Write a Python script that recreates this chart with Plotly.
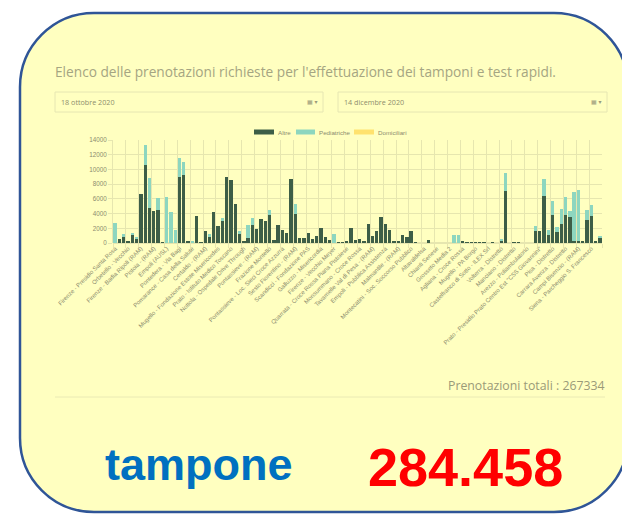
import plotly.graph_objects as go

W, H = 622, 520

# ---------------- data ----------------
tick_labels = [
    "Firenze - Presidio Santa Rosa", "Orbetello - Vecchio", "Firenze - Badia Ripoli (RAM)",
    "Pistoia - (RAM)", "Empoli (AUSL)", "Pontedera - Via Bagi",
    "Pomarance - Casa della Salute", "Certaldo - (RAM)", "Mugello - Fondazione Estote Misericordes",
    "Prato - Istituto Medico Toscano", "Nottola - Ospedale Drive Through", "Pontassieve - (RAM)",
    "Frazione Montello", "Pontassieve - Loc. Sieci Croce Azzurra", "Sesto Fiorentino - (RAM)",
    "Scandicci - Fondazione PAS", "Galluzzo - Misericordia", "Firenze - Vecchio Meyer",
    "Quarrata - Croce Rossa Piana Pistoiese", "Monsummano - Croce Rossa", "Tavarnelle Val di Pesa - (RAM)",
    "Empoli - Pubblica Assistenza", "Malmantile - (RAM)", "Montecatini - Soc. Soccorso Pubblico",
    "Altavaldelsa", "Chianti Senese", "Grosseto Media 2",
    "Agliana - Croce Rossa", "Mugello - PA Borgo", "Castelfranco di Sotto - ILEX Srl",
    "Volterra - Distretto", "Manciano - Distretto", "Arezzo - Poliambulatorio",
    "Prato - Presidio Prato Centro Est \"CSS Giovannini\"", "Pisa - Distretto", "Carrara Avenza - Distretto",
    "Campi Bisenzio - (RAM)", "Siena - Parcheggio S. Francesco",
]

altre = [
    0, 550, 860, 140, 1050, 640, 6600, 10600, 4700, 4360,
    4500, 30, 0, 0, 0, 8950, 9180, 230, 0, 3640,
    40, 1680, 820, 4180, 2360, 3050, 8950, 8550, 5360, 1230,
    320, 680, 2400, 1900, 3230, 3050, 3860, 360, 2400, 1800,
    1360, 8730, 3900, 640, 640, 1360, 500, 1000, 2090, 860,
    360, 0, 60, 40, 320, 2100, 360, 500, 140, 2600,
    900, 1680, 3600, 2600, 1770, 270, 320, 1140, 820, 1600,
    100, 0, 0, 400, 0, 0, 0, 0, 0, 0,
    0, 230, 80, 40, 50, 100, 80, 0, 30, 0,
    350, 7050, 0, 100, 50, 0, 0, 0, 1650, 1600,
    6330, 1150, 3830, 1550, 2620, 3760, 3500, 320, 320, 320,
    3120, 3720, 320, 690,
]
pediatriche = [
    2700, 0, 410, 0, 310, 180, 0, 2700, 4160, 0,
    1550, 0, 6200, 4270, 1800, 2650, 1820, 0, 180, 0,
    0, 0, 410, 0, 0, 400, 0, 0, 0, 450,
    0, 1720, 1050, 0, 0, 0, 640, 0, 0, 0,
    0, 0, 1400, 0, 0, 0, 0, 0, 0, 0,
    0, 1270, 0, 0, 0, 0, 0, 0, 0, 0,
    0, 0, 0, 0, 0, 0, 0, 0, 0, 0,
    0, 0, 0, 0, 0, 0, 0, 0, 0, 1140,
    1140, 0, 0, 0, 0, 0, 0, 0, 0, 0,
    200, 2400, 0, 0, 0, 0, 0, 0, 600, 0,
    2400, 670, 1900, 570, 2050, 2430, 880, 6680, 6950, 0,
    1380, 1470, 0, 190,
]
domiciliari = [0] * len(altre)
x_idx = list(range(len(altre)))
tick_pos = list(range(0, 3 * len(tick_labels), 3))

y_ticks = [0, 2000, 4000, 6000, 8000, 10000, 12000, 14000]
y_tick_text = [str(v) for v in y_ticks]

# ---------------- helpers ----------------
def px(x):
    return x / W

def py(y):
    return 1 - y / H

C_ALTRE = "#3D5E47"
C_PED = "#8DD6BF"
C_DOM = "#FFE26E"
CARD = "#FFFFC0"
GRID = "#E6E6AF"
TXT = "#8C8C6E"
CHART_FONT = "Liberation Sans"

fig = go.Figure()
fig.add_trace(go.Bar(x=x_idx, y=altre, name="Altre", marker=dict(color=C_ALTRE, line=dict(width=0))))
fig.add_trace(go.Bar(x=x_idx, y=pediatriche, name="Pediatriche", marker=dict(color=C_PED, line=dict(width=0))))
fig.add_trace(go.Bar(x=x_idx, y=domiciliari, name="Domiciliari", marker=dict(color=C_DOM, line=dict(width=0))))

# rounded card path (bezier in paper coords)
L, R, T, B, r = 20, 628, 13, 512, 74
k = 0.5523 * r
pts = [
    ("M", [(L + r, T)]),
    ("L", [(R - r, T)]),
    ("C", [(R - r + k, T), (R, T + r - k), (R, T + r)]),
    ("L", [(R, B - r)]),
    ("C", [(R, B - r + k), (R - r + k, B), (R - r, B)]),
    ("L", [(L + r, B)]),
    ("C", [(L + r - k, B), (L, B - r + k), (L, B - r)]),
    ("L", [(L, T + r)]),
    ("C", [(L, T + r - k), (L + r - k, T), (L + r, T)]),
]
path = ""
for cmd, ps in pts:
    path += cmd + " " + " ".join(f"{px(a):.5f},{py(b):.5f}" for a, b in ps) + " "
path += "Z"

shapes = [
    dict(type="path", path=path, xref="paper", yref="paper", fillcolor=CARD,
         line=dict(color="#2F5597", width=2.5), layer="below"),
    dict(type="rect", xref="paper", yref="paper", x0=px(55), x1=px(323), y0=py(92), y1=py(112),
         line=dict(color="#E6E6B2", width=1), fillcolor="rgba(0,0,0,0)", layer="below"),
    dict(type="rect", xref="paper", yref="paper", x0=px(338), x1=px(607), y0=py(92), y1=py(112),
         line=dict(color="#E6E6B2", width=1), fillcolor="rgba(0,0,0,0)", layer="below"),
    dict(type="rect", xref="paper", yref="paper", x0=px(254), x1=px(274), y0=py(129.5), y1=py(134.5),
         line=dict(width=0), fillcolor=C_ALTRE),
    dict(type="rect", xref="paper", yref="paper", x0=px(296), x1=px(315), y0=py(129.5), y1=py(134.5),
         line=dict(width=0), fillcolor=C_PED),
    dict(type="rect", xref="paper", yref="paper", x0=px(354), x1=px(374), y0=py(129.5), y1=py(134.5),
         line=dict(width=0), fillcolor=C_DOM),
    dict(type="line", xref="paper", yref="paper", x0=px(55), x1=px(605), y0=py(397), y1=py(397),
         line=dict(color="#EAEAB4", width=1)),
]

def ann(text, x, y, size, color, xanchor="left", family="Open Sans", weight=None):
    f = dict(size=size, color=color, family=family)
    if weight:
        f["weight"] = weight
    return dict(text=text, x=px(x), y=py(y), xref="paper", yref="paper", showarrow=False,
                xanchor=xanchor, yanchor="middle", font=f)

annotations = [
    ann("Elenco delle prenotazioni richieste per l'effettuazione dei tamponi e test rapidi.",
        53, 72, 13.7, "#A5A582"),
    ann("18 ottobre 2020", 59, 102, 7.2, "#8E8E6C"),
    ann("14 dicembre 2020", 342, 102, 7.2, "#8E8E6C"),
    ann("▦ ▾", 320, 101.5, 6, "#9A9A7A", xanchor="right", family="DejaVu Sans"),
    ann("▦ ▾", 604, 101.5, 6, "#9A9A7A", xanchor="right", family="DejaVu Sans"),
    ann("Altre", 276, 132, 6.2, TXT, family=CHART_FONT),
    ann("Pediatriche", 317, 132, 6.2, TXT, family=CHART_FONT),
    ann("Domiciliari", 376, 132, 6.2, TXT, family=CHART_FONT),
    ann("Prenotazioni totali : 267334", 607, 385.5, 12.3, "#9A9A78", xanchor="right"),
    ann("tampone", 199, 464, 45, "#0070C0", xanchor="center", family="Liberation Sans", weight="bold"),
    ann("284.458", 466, 467, 54, "#FF0000", xanchor="center", family="Liberation Sans", weight="bold"),
]

fig.update_layout(
    width=W, height=H,
    autosize=False,
    margin=dict(l=0, r=0, t=0, b=0, pad=0, autoexpand=False),
    paper_bgcolor="white",
    plot_bgcolor="rgba(0,0,0,0)",
    barmode="stack",
    bargap=0.22,
    showlegend=False,
    shapes=shapes,
    annotations=annotations,
    xaxis=dict(
        domain=[px(113), px(602)],
        range=[-0.5, len(altre) - 0.5],
        tickmode="array", tickvals=tick_pos, ticktext=tick_labels,
        tickangle=-45,
        tickfont=dict(size=6, color=TXT, family=CHART_FONT),
        showgrid=False, zeroline=False,
        ticks="", showline=False,
        automargin=False,
        minor=dict(tick0=-0.5, dtick=3, showgrid=True, gridcolor=GRID, gridwidth=1,
                   ticks="outside", ticklen=4, tickcolor=GRID),
        fixedrange=True,
    ),
    yaxis=dict(
        domain=[py(243), py(140)],
        range=[0, 14000],
        tickmode="array", tickvals=y_ticks, ticktext=y_tick_text,
        tickfont=dict(size=6.3, color=TXT, family=CHART_FONT),
        showgrid=True, gridcolor=GRID, gridwidth=1,
        zeroline=True, zerolinecolor=GRID,
        ticks="outside", ticklen=4, tickcolor=GRID,
        showline=True, linecolor=GRID,
        automargin=False,
        fixedrange=True,
    ),
)

fig.write_html("out.html", post_script="document.body.style.margin='0';",
               config={"displayModeBar": False})
